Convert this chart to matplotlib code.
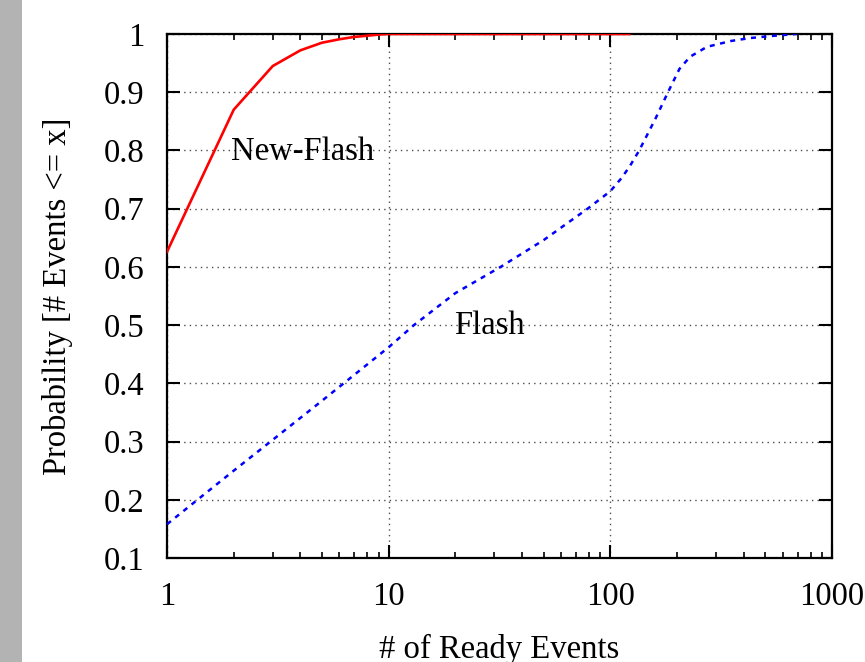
import matplotlib
matplotlib.use('Agg')
import matplotlib.pyplot as plt
from matplotlib.patches import Rectangle
from matplotlib.ticker import LogLocator, FixedLocator, NullFormatter

plt.rcParams['font.family'] = ['Liberation Serif', 'DejaVu Serif']

# CDF of ready events per call
x_newflash = [1, 2, 3, 4, 5, 6, 7, 8, 9, 10, 20, 50, 122]
p_newflash = [0.626, 0.870, 0.945, 0.972, 0.985, 0.991, 0.995, 0.997, 0.999, 1.0, 1.0, 1.0, 1.0]

x_flash = [1, 2, 3, 5, 10, 13, 20, 32, 50, 79, 100, 112, 122, 135, 160, 182, 205, 229, 273, 350, 426, 550, 692]
p_flash = [0.158, 0.250, 0.303, 0.370, 0.462, 0.500, 0.555, 0.600, 0.646, 0.700, 0.730, 0.752, 0.772,
           0.800, 0.855, 0.900, 0.940, 0.961, 0.978, 0.988, 0.993, 0.997, 1.0]

yticks = [0.1, 0.2, 0.3, 0.4, 0.5, 0.6, 0.7, 0.8, 0.9, 1.0]
ytick_labels = ['0.1', '0.2', '0.3', '0.4', '0.5', '0.6', '0.7', '0.8', '0.9', '1']
xticks = [1, 10, 100, 1000]
xtick_labels = ['1', '10', '100', '1000']

fs = 23.5

fig = plt.figure(figsize=(8.65, 6.62), dpi=100)
fig.patches.append(Rectangle((0, 0), 22 / 865, 1, transform=fig.transFigure,
                             facecolor='#b3b3b3', edgecolor='none', zorder=0))

ax = fig.add_axes([167 / 865, 104 / 662, 665 / 865, 524 / 662])
ax.set_xscale('log')
ax.set_xlim(1, 1000)
ax.set_ylim(0.1, 1.0)

ax.plot(x_newflash, p_newflash, color='#ff0000', lw=1.9, zorder=3)
ax.plot(x_flash, p_flash, color='#0000ff', lw=1.8, linestyle=(0, (2, 2.2)), zorder=3)

ax.xaxis.set_major_locator(FixedLocator(xticks))
ax.set_xticklabels(xtick_labels)
ax.xaxis.set_minor_locator(LogLocator(base=10, subs=range(2, 10)))
ax.xaxis.set_minor_formatter(NullFormatter())
ax.set_yticks(yticks)
ax.set_yticklabels(ytick_labels)

ax.grid(True, which='major', color='0.3', lw=1.0, linestyle=(0, (1, 3)))
ax.tick_params(which='major', direction='in', length=9.5, width=1.5, top=True, right=True,
               labelsize=fs)
ax.tick_params(axis='y', which='major', pad=16)
ax.tick_params(axis='x', which='major', pad=17)
ax.tick_params(which='minor', direction='in', length=4.5, width=1.2, top=True, right=True)
for s in ax.spines.values():
    s.set_linewidth(1.6)

ax.text(4.1, 0.797, 'New-Flash', fontsize=fs, ha='center', va='center')
ax.text(28.6, 0.4985, 'Flash', fontsize=fs, ha='center', va='center')

ax.set_xlabel('# of Ready Events', fontsize=fs, labelpad=16)
ax.set_ylabel('Probability [# Events <= x]', fontsize=fs, labelpad=22)

fig.savefig('out.png', dpi=100)
